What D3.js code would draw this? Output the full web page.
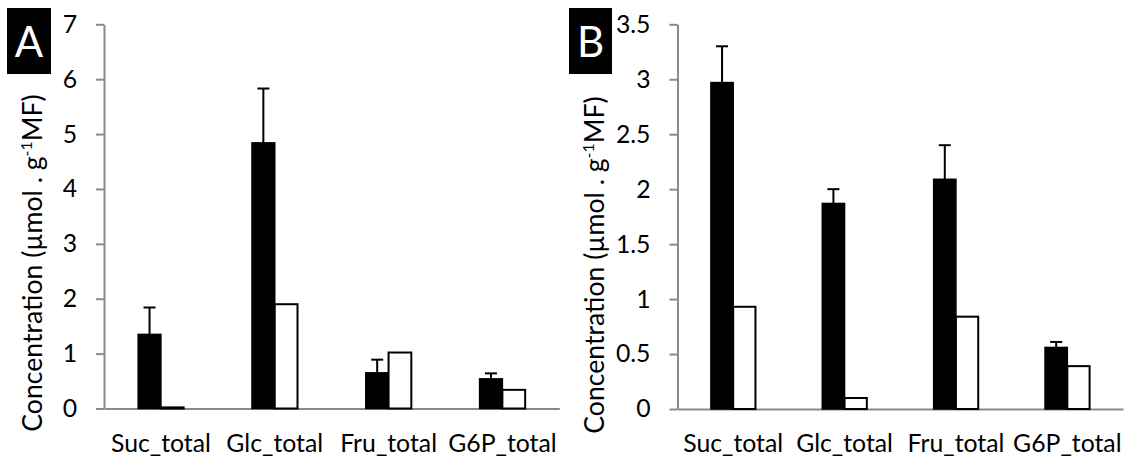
<!DOCTYPE html>
<html>
<head>
<meta charset="utf-8">
<script src="https://cdn.jsdelivr.net/npm/d3@7"></script>
<style>
  html, body { margin: 0; padding: 0; background: #fff; }
  svg { display: block; }
  text { font-family: Lato, "Open Sans", sans-serif; fill: #000; }
</style>
</head>
<body>
<svg id="chart" width="1126" height="461"></svg>
<script>
// Sugar contents, two conditions per metabolite (filled = first, open = second)
const categories = ["Suc_total", "Glc_total", "Fru_total", "G6P_total"];

// Panel A
const filledA = [1.35, 4.84, 0.65, 0.54];
const errorA  = [0.49, 0.99, 0.24, 0.10];
const openA   = [0.02, 1.90, 1.02, 0.34];
const ticksA  = [0, 1, 2, 3, 4, 5, 6, 7];

// Panel B
const filledB = [2.97, 1.87, 2.09, 0.56];
const errorB  = [0.33, 0.13, 0.31, 0.05];
const openB   = [0.93, 0.10, 0.84, 0.39];
const ticksB  = [0, 0.5, 1, 1.5, 2, 2.5, 3, 3.5];

const svg = d3.select("#chart");
const AXIS_COLOR = "#8a8a8a";

// pick a font size that gives a string the wanted rendered width
function fitSize(str, target, start) {
  const t = svg.append("text").style("font-size", start + "px").text(str);
  const w = t.node().getComputedTextLength();
  t.remove();
  return start * target / w;
}
const labelSize = fitSize("Suc_total", 100, 24);
const titleSize = fitSize("Concentration (µmol . gMF)", 322, 26);

function drawPanel(p) {
  const g = svg.append("g");

  const x = d3.scaleBand().domain(categories).range([p.left, p.right]);
  const y = d3.scaleLinear().domain([0, p.max]).range([p.bottom, p.top]);
  const w = x.bandwidth() * 0.2;

  // y axis
  const yAxis = g.append("g")
    .attr("transform", `translate(${p.left},0)`)
    .call(d3.axisLeft(y).tickValues(p.ticks).tickFormat(d3.format(""))
      .tickSize(8).tickSizeOuter(0).tickPadding(19));
  yAxis.select(".domain").attr("stroke", AXIS_COLOR).attr("stroke-width", 2);
  yAxis.selectAll(".tick line").attr("stroke", AXIS_COLOR).attr("stroke-width", 2);
  yAxis.selectAll(".tick text")
    .style("font-size", labelSize + "px")
    .style("font-family", "Lato, 'Open Sans', sans-serif")
    .attr("fill", "#000");

  // x axis
  const xAxis = g.append("g")
    .attr("transform", `translate(0,${p.bottom})`)
    .call(d3.axisBottom(x).tickSize(0).tickSizeOuter(0));
  xAxis.select(".domain").attr("stroke", AXIS_COLOR).attr("stroke-width", 2);
  xAxis.selectAll(".tick text")
    .attr("y", 43).attr("dy", null)
    .style("font-size", labelSize + "px")
    .style("font-family", "Lato, 'Open Sans', sans-serif")
    .attr("fill", "#000");

  const rows = categories.map((c, i) => ({
    c, filled: p.filled[i], err: p.err[i], open: p.open[i]
  }));

  // filled bars
  g.selectAll("rect.filled").data(rows).join("rect")
    .attr("class", "filled")
    .attr("x", d => x(d.c) + x.bandwidth() / 2 - w)
    .attr("y", d => y(d.filled))
    .attr("width", w)
    .attr("height", d => y(0) - y(d.filled))
    .attr("fill", "#000").attr("stroke", "#000").attr("stroke-width", 1.5);

  // open bars
  g.selectAll("rect.open").data(rows).join("rect")
    .attr("class", "open")
    .attr("x", d => x(d.c) + x.bandwidth() / 2)
    .attr("y", d => y(d.open))
    .attr("width", w)
    .attr("height", d => y(0) - y(d.open))
    .attr("fill", "#fff").attr("stroke", "#000").attr("stroke-width", 2);

  // upper error bars on filled bars
  const eb = g.selectAll("g.err").data(rows).join("g").attr("class", "err");
  const cx = d => x(d.c) + x.bandwidth() / 2 - w / 2;
  eb.append("line")
    .attr("x1", cx).attr("x2", cx)
    .attr("y1", d => y(d.filled)).attr("y2", d => y(d.filled + d.err))
    .attr("stroke", "#000").attr("stroke-width", 2);
  eb.append("line")
    .attr("x1", d => cx(d) - 6).attr("x2", d => cx(d) + 6)
    .attr("y1", d => y(d.filled + d.err)).attr("y2", d => y(d.filled + d.err))
    .attr("stroke", "#000").attr("stroke-width", 2);

  // axis title
  const title = g.append("text")
    .attr("transform", `translate(${p.titleX},${p.titleY}) rotate(-90)`)
    .attr("text-anchor", "middle")
    .style("font-size", titleSize + "px");
  title.append("tspan").text("Concentration (µmol . g");
  title.append("tspan").attr("dy", -titleSize * 0.38)
    .style("font-size", (titleSize * 0.6) + "px").text("-1");
  title.append("tspan").attr("dy", titleSize * 0.38).text("MF)");

  // panel tag
  g.append("rect")
    .attr("x", p.tagX).attr("y", 8).attr("width", p.tagW).attr("height", 66)
    .attr("fill", "#000");
  g.append("text")
    .attr("x", p.tagX + p.tagW / 2).attr("y", 57)
    .attr("text-anchor", "middle")
    .style("font-size", "42px").style("fill", "#fff")
    .text(p.tag);
}

drawPanel({
  left: 104, right: 559.3, top: 24.3, bottom: 408.5, max: 7, ticks: ticksA,
  filled: filledA, err: errorA, open: openA,
  titleX: 42, titleY: 263, tag: "A", tagX: 7, tagW: 44
});

drawPanel({
  left: 677.5, right: 1123, top: 24.3, bottom: 409, max: 3.5, ticks: ticksB,
  filled: filledB, err: errorB, open: openB,
  titleX: 604, titleY: 265, tag: "B", tagX: 569, tagW: 43
});
</script>
</body>
</html>
